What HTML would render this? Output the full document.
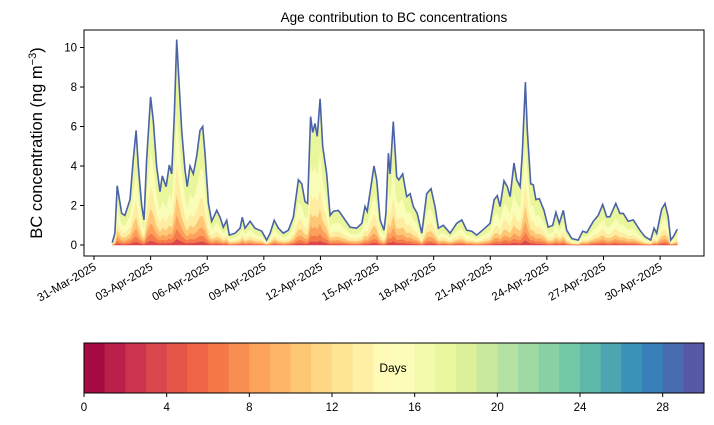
<!DOCTYPE html>
<html><head><meta charset="utf-8"><style>
body{margin:0;background:#fff;}
svg{font-family:"Liberation Sans","DejaVu Sans",sans-serif;display:block;}
</style></head><body>
<svg id="c" width="714" height="425" viewBox="0 0 714 425"></svg>
<script>
const days=[0.97,1.11,1.23,1.47,1.64,1.91,2.08,2.23,2.35,2.53,2.65,2.79,3.00,3.14,3.32,3.50,3.62,3.82,3.99,4.12,4.26,4.38,4.50,4.65,4.82,4.94,5.09,5.26,5.44,5.62,5.76,5.88,6.06,6.24,6.50,6.68,6.85,7.03,7.17,7.47,7.74,7.86,8.00,8.27,8.53,8.89,9.15,9.33,9.55,9.77,10.03,10.30,10.56,10.83,11.01,11.18,11.32,11.48,11.59,11.71,11.83,11.98,12.12,12.33,12.51,12.68,12.95,13.21,13.57,13.92,14.19,14.36,14.48,14.84,14.98,15.16,15.37,15.47,15.60,15.69,15.86,16.04,16.16,16.36,16.57,16.75,16.92,17.13,17.37,17.63,17.86,18.07,18.25,18.51,18.87,19.22,19.49,19.75,20.02,20.28,20.55,20.77,20.99,21.21,21.37,21.52,21.73,21.90,22.05,22.26,22.40,22.58,22.70,22.86,22.96,23.14,23.28,23.42,23.60,23.85,24.07,24.31,24.48,24.66,24.87,25.05,25.32,25.66,25.90,26.11,26.46,26.72,26.96,27.17,27.34,27.65,27.87,28.05,28.31,28.58,28.93,29.20,29.50,29.68,29.82,30.08,30.26,30.43,30.56,30.70,30.91];
const bc=[0.12,0.6,3.0,1.6,1.5,2.3,4.3,5.8,4.0,2.0,1.27,4.3,7.5,6.3,4.0,2.7,3.5,2.95,4.05,3.6,6.7,10.4,8.35,5.8,3.8,2.95,4.0,3.6,4.5,5.8,6.0,4.65,2.1,1.2,1.75,1.4,0.9,1.25,0.5,0.6,0.85,1.4,0.85,1.2,0.85,0.7,0.25,0.6,1.25,0.85,0.6,0.75,1.4,3.3,3.1,2.2,2.1,6.5,5.7,6.15,5.5,7.4,5.0,3.6,1.5,1.7,1.75,1.4,0.9,0.85,1.1,1.95,1.7,4.0,3.3,1.27,0.75,1.6,4.65,3.6,6.25,3.45,3.3,3.6,2.45,2.6,1.95,1.6,0.6,2.6,2.85,1.95,0.85,1.0,0.6,1.1,1.27,0.75,0.7,0.5,0.72,0.9,1.1,2.3,2.5,1.95,3.25,2.95,2.45,4.15,3.3,2.95,4.65,8.25,5.8,3.1,3.05,2.3,2.35,1.75,0.9,1.0,1.65,1.1,1.75,0.75,0.33,0.25,0.7,0.63,1.2,1.5,2.05,1.43,1.43,2.1,1.6,1.6,1.2,1.27,0.75,0.42,0.25,0.85,0.6,1.8,2.1,1.43,0.25,0.42,0.8];
const yTicks=[0,2,4,6,8,10];
const xTickDays=[0,3,6,9,12,15,18,21,24,27,30];
const xTickLabels=["31-Mar-2025","03-Apr-2025","06-Apr-2025","09-Apr-2025","12-Apr-2025","15-Apr-2025","18-Apr-2025","21-Apr-2025","24-Apr-2025","27-Apr-2025","30-Apr-2025"];
const cbTicks=[0,4,8,12,16,20,24,28];

const NS="http://www.w3.org/2000/svg",svg=document.getElementById('c');
function mk(t,a,p){const e=document.createElementNS(NS,t);for(const k in a)e.setAttribute(k,a[k]);(p||svg).appendChild(e);return e;}
const L=84,R=704,T=30,B=256;
const xs=d=>94+18.87*d, ys=v=>245-19.75*v;
const sp=[[158,1,66],[213,62,79],[244,109,67],[253,174,97],[254,224,139],[255,255,191],[230,245,152],[171,221,164],[102,194,165],[50,136,189],[94,79,162]];
function spec(t){const f=t*10,i=Math.min(9,Math.floor(f)),r=f-i;const a=sp[i],b=sp[i+1];return 'rgb('+a.map((v,k)=>Math.round(v+(b[k]-v)*r)).join(',')+')';}
const g=mk('g',{});
const fr=[0,0.03,0.08,0.15,0.25,0.4,0.65,1.0],ft=[0.12,0.22,0.28,0.35,0.44,0.52,0.59];
for(let k=0;k<fr.length-1;k++){
 let top=days.map((d,i)=>xs(d).toFixed(1)+','+ys(bc[i]*fr[k+1]).toFixed(1));
 let bot=days.map((d,i)=>xs(d).toFixed(1)+','+ys(bc[i]*fr[k]).toFixed(1)).reverse();
 const p=mk('polygon',{points:top.concat(bot).join(' '),fill:spec(ft[k]),stroke:spec(ft[k]),'stroke-width':0.5},g);
 
}
const line=mk('polyline',{points:days.map((d,i)=>xs(d).toFixed(1)+','+ys(bc[i]).toFixed(1)).join(' '),fill:'none',stroke:'#4a62a8','stroke-width':1.6});

const fr0=mk('rect',{x:L,y:T,width:R-L,height:B-T,fill:'none',stroke:'#000','stroke-width':1});

yTicks.forEach(v=>{const y=ys(v);mk('line',{x1:L-4,x2:L,y1:y,y2:y,stroke:'#000'});
 const t=mk('text',{x:L-7,y:y+4,'text-anchor':'end','font-size':11.5});t.textContent=v;
 });
xTickDays.forEach((d,i)=>{const x=xs(d);mk('line',{x1:x,x2:x,y1:B,y2:B+4,stroke:'#000'});
 const t=mk('text',{x:x+3,y:B+13,'text-anchor':'end','font-size':11.5,transform:'rotate(-30 '+(x+3)+' '+(B+13)+')'});t.textContent=xTickLabels[i];
 });
const ti=mk('text',{x:394,y:22,'text-anchor':'middle','font-size':13.5});ti.textContent='Age contribution to BC concentrations';

const yl=mk('text',{x:42,y:143,'text-anchor':'middle','font-size':16.5,transform:'rotate(-90 42 143)'});
yl.innerHTML='BC concentration (ng m<tspan baseline-shift="super" font-size="11">−3</tspan>)';

const cb=mk('g',{});
const cw=(R-L)/30;
for(let i=0;i<30;i++){mk('rect',{x:L+i*cw,y:343,width:cw+0.5,height:50,fill:spec((i+0.5)/30)},cb);}
mk('rect',{x:L,y:343,width:R-L,height:50,fill:'none',stroke:'#000'},cb);
cbTicks.forEach(v=>{const x=L+v*cw;mk('line',{x1:x,x2:x,y1:393,y2:397,stroke:'#000'});
 const t=mk('text',{x:x,y:411,'text-anchor':'middle','font-size':11.5});t.textContent=v;
 });
const dl=mk('text',{x:393,y:372,'text-anchor':'middle','font-size':12});dl.textContent='Days';

</script>
</body></html>
